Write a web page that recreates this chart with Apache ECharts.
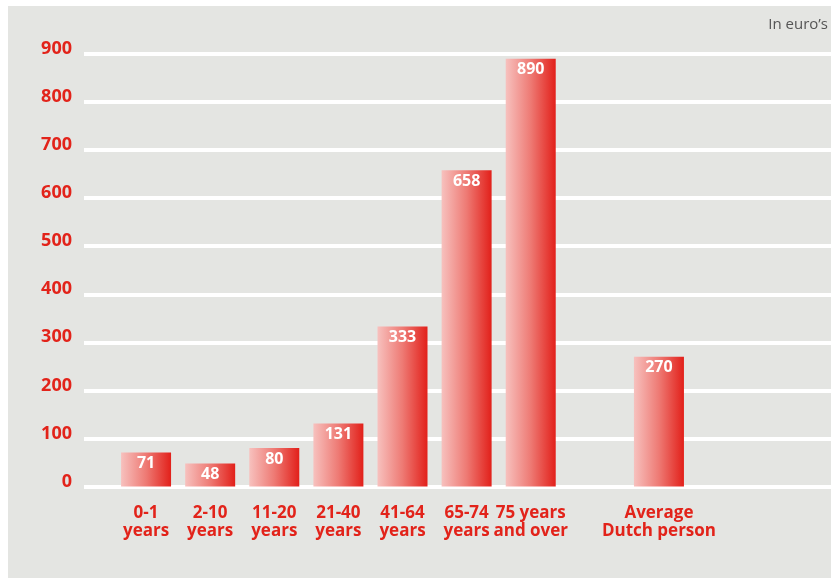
<!DOCTYPE html>
<html>
<head>
<meta charset="utf-8">
<script src="https://cdn.jsdelivr.net/npm/echarts@6/dist/echarts.min.js"></script>
<style>
html,body{margin:0;padding:0;background:#ffffff;}
#bg{position:absolute;left:8px;top:6px;width:823px;height:572px;background:#e4e5e2;}
#chart{position:absolute;left:0;top:0;width:831px;height:579px;}
</style>
</head>
<body>
<div id="bg"></div>
<div id="chart"></div>
<script>
const categories = ['0-1\nyears', '2-10\nyears', '11-20\nyears', '21-40\nyears', '41-64\nyears', '65-74\nyears', '75 years\nand over', '', 'Average\nDutch person'];
const values = [71, 48, 80, 131, 333, 658, 890, null, 270];
const yTicks = [0, 100, 200, 300, 400, 500, 600, 700, 800, 900];
const unitNote = 'In euro\u2019s';

const RED = '#e2231a';
const FONT = 'Open Sans';

const chart = echarts.init(document.getElementById('chart'));
chart.setOption({
  animation: false,
  title: {
    text: unitNote,
    right: -2,
    top: 12,
    textStyle: { fontFamily: FONT, fontSize: 15, fontWeight: 'normal', color: '#555555' }
  },
  grid: [
    { left: 114, right: 140, top: 54, bottom: 92.5 },
    { left: 84, right: 0, top: 54, bottom: 92.5 }
  ],
  xAxis: [
    {
      type: 'category',
      gridIndex: 0,
      data: categories,
      axisLine: { show: false },
      axisTick: { show: false },
      axisLabel: {
        interval: 0,
        margin: 18,
        color: RED,
        fontFamily: FONT,
        fontWeight: 'bold',
        fontSize: 17,
        lineHeight: 18
      }
    },
    {
      type: 'value',
      gridIndex: 1,
      show: false,
      min: 0,
      max: 1
    }
  ],
  yAxis: [
    {
      type: 'value',
      gridIndex: 0,
      min: yTicks[0],
      max: yTicks[yTicks.length - 1],
      interval: 100,
      show: false
    },
    {
      type: 'value',
      gridIndex: 1,
      min: yTicks[0],
      max: yTicks[yTicks.length - 1],
      interval: 100,
      axisLine: { show: false },
      axisTick: { show: false },
      axisLabel: {
        margin: 12,
        color: RED,
        fontFamily: FONT,
        fontWeight: 'bold',
        fontSize: 18,
        verticalAlign: 'bottom',
        lineHeight: 10
      },
      splitLine: { show: true, lineStyle: { color: '#ffffff', width: 4 } }
    }
  ],
  series: [
    {
      type: 'bar',
      xAxisIndex: 0,
      yAxisIndex: 0,
      data: values,
      barWidth: 50,
      z: 5,
      itemStyle: {
        color: new echarts.graphic.LinearGradient(0, 0, 1, 0, [
          { offset: 0, color: '#f7c1be' },
          { offset: 0.5, color: '#ee7a74' },
          { offset: 1, color: '#e2201a' }
        ])
      },
      label: {
        show: true,
        position: 'insideTop',
        distance: 3,
        color: '#ffffff',
        fontFamily: FONT,
        fontWeight: 'bold',
        fontSize: 16
      }
    }
  ]
});
</script>
</body>
</html>
